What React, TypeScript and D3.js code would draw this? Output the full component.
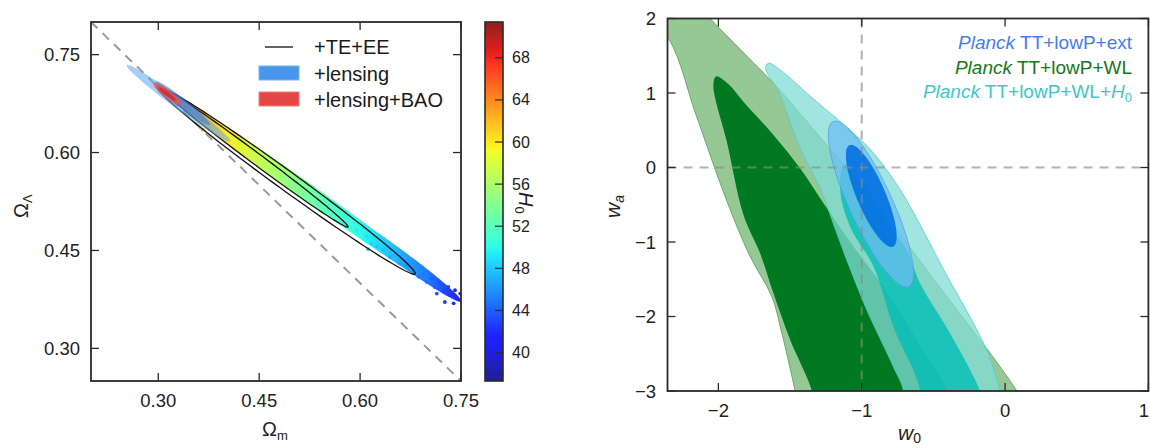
import React from "react";
import * as d3 from "d3";

const FONT = "'Liberation Sans', Arial, sans-serif";
const W = 1150;
const HT = 448;

// ---------------- Left panel data ----------------
const omDomain = [0.2, 0.75];
const olDomain = [0.25, 0.8];
const omTicks = [0.3, 0.45, 0.6, 0.75];
const olTicks = [0.3, 0.45, 0.6, 0.75];
const h0Domain = [37.3, 71.4];
const h0Ticks = [40, 44, 48, 52, 56, 60, 64, 68];
const flatOm = [0.2, 0.75]; // Omega_L = 1 - Omega_m

// H0 colouring of the sample band along Omega_m
const bandOm = [0.3, 0.35, 0.4, 0.45, 0.5, 0.55, 0.6, 0.65, 0.7, 0.75];
const bandH0 = [67, 63, 60, 57, 54.5, 52, 50, 47.5, 45, 41];
const bandShape = { a: [0.303, 0.7], b: [0.745, 0.376], r: 0.045 };
const tailShape = { a: [0.56, 0.515], b: [0.75, 0.372], r: 0.085 };

// scattered samples in the tail: [Omega_m, Omega_L, H0]
const tailSamples = [
  [0.585, 0.499, 50], [0.595, 0.481, 49.5], [0.605, 0.486, 49], [0.61, 0.471, 49],
  [0.617, 0.461, 48.5], [0.625, 0.456, 48], [0.634, 0.451, 47.5], [0.644, 0.44, 47],
  [0.654, 0.446, 47], [0.659, 0.43, 46.5], [0.669, 0.425, 46], [0.679, 0.42, 45.5],
  [0.687, 0.41, 45], [0.694, 0.415, 45], [0.699, 0.402, 44.5], [0.706, 0.407, 44],
  [0.711, 0.394, 44], [0.719, 0.4, 43.5], [0.724, 0.387, 43], [0.731, 0.394, 43],
  [0.734, 0.382, 42.5], [0.741, 0.389, 42], [0.744, 0.377, 42], [0.749, 0.384, 41.5],
  [0.726, 0.371, 42.5], [0.714, 0.384, 43.5], [0.739, 0.369, 42], [0.612, 0.452, 48.5],
  [0.366, 0.635, 63], [0.34, 0.677, 64],
];

// contours: tips of the major axis and minor/major ratio
const teeeOuter = { a: [0.298, 0.701], b: [0.682, 0.414], r: 0.06 };
const teeeInner = { a: [0.304, 0.699], b: [0.582, 0.486], r: 0.048 };
const lensOuter = { a: [0.253, 0.734], b: [0.407, 0.617], r: 0.085 };
const lensInner = { a: [0.296, 0.709], b: [0.377, 0.642], r: 0.12 };
const baoOuter = { a: [0.293, 0.706], b: [0.335, 0.673], r: 0.22 };
const baoInner = { a: [0.3, 0.7], b: [0.326, 0.68], r: 0.2 };

const leftLegend = ["+TE+EE", "+lensing", "+lensing+BAO"];

// ---------------- Right panel data ----------------
const w0Domain = [-2.355, 1];
const waDomain = [-3, 2];
const w0Ticks = [-2, -1, 0, 1];
const waTicks = [-3, -2, -1, 0, 1, 2];

const greenOuter = [
  [-2.65, 2.6], [-2.17, 2.25], [-2.057, 2.0], [-1.83, 1.55], [-1.604, 1.107],
  [-1.22, 0.25], [-0.918, -0.436], [-0.476, -1.554], [0.082, -3.0], [0.16, -3.3],
  [-1.43, -3.3], [-1.464, -3.0], [-1.557, -2.226], [-1.627, -1.734], [-1.778, -1.197],
  [-1.941, -0.45], [-2.155, 0.7], [-2.348, 1.734], [-2.65, 2.4],
];
const greenInner = [
  [-2.015, 1.225], [-1.93, 1.12], [-1.825, 0.883], [-1.616, 0.436], [-1.43, -0.011],
  [-1.243, -0.548], [-1.08, -1.0], [-0.85, -1.6], [-0.62, -2.3], [-0.405, -3.0],
  [-0.35, -3.3], [-1.33, -3.3], [-1.348, -3.0], [-1.499, -2.315], [-1.616, -1.689],
  [-1.709, -1.152], [-1.825, -0.638], [-1.941, 0.346], [-2.035, 1.1],
];
const cyanOuter = [
  [-1.65, 1.4], [-1.53, 1.25], [-1.356, 0.95], [-1.11, 0.55], [-0.916, 0.19],
  [-0.745, -0.26], [-0.623, -0.66], [-0.5, -1.11], [-0.378, -1.55], [-0.232, -2.05],
  [-0.109, -2.54], [-0.035, -3.0], [0.0, -3.3], [-0.73, -3.3], [-0.709, -3.0],
  [-0.779, -2.674], [-0.964, -1.913], [-1.104, -1.242], [-1.18, -0.85], [-1.29, -0.28],
  [-1.43, 0.258], [-1.581, 1.017], [-1.67, 1.33],
];
const cyanInner = [
  [-1.12, 0.05], [-0.95, -0.3], [-0.8, -0.8], [-0.686, -1.107], [-0.593, -1.554],
  [-0.384, -2.226], [-0.174, -3.0], [-0.13, -3.3], [-0.62, -3.3], [-0.593, -3.0],
  [-0.779, -2.137], [-0.918, -1.33], [-1.08, -0.8], [-1.15, -0.3],
];
const blueOuter = { a: [-1.2, 0.615], b: [-0.672, -1.6], r: 0.237 };
const blueInner = { a: [-1.085, 0.3], b: [-0.782, -1.063], r: 0.26 };

const rightLegend = [
  { rest: " TT+lowP+ext", color: "rgb(70,125,235)", h0: false },
  { rest: " TT+lowP+WL", color: "rgb(20,120,25)", h0: false },
  { rest: " TT+lowP+WL+", color: "rgb(60,200,200)", h0: true },
];

// ---------------- helpers ----------------
const jetR = d3.scaleLinear().domain([0, 0.35, 0.66, 0.89, 1]).range([0, 0, 1, 1, 0.5]).clamp(true);
const jetG = d3.scaleLinear().domain([0, 0.125, 0.375, 0.64, 0.91, 1]).range([0, 0, 1, 1, 0, 0]).clamp(true);
const jetB = d3.scaleLinear().domain([0, 0.11, 0.34, 0.65, 1]).range([0.5, 1, 1, 0, 0]).clamp(true);
function jet(t: number) {
  const w = 0.12;
  const f = (v: number) => Math.round((v * (1 - w) + w) * 255);
  return `rgb(${f(jetR(t))},${f(jetG(t))},${f(jetB(t))})`;
}
const h0Color = (h: number) => jet((h - h0Domain[0]) / (h0Domain[1] - h0Domain[0]));

function ellipsePath(xs: any, ys: any, e: any, n = 120) {
  const ax = xs(e.a[0]), ay = ys(e.a[1]), bx = xs(e.b[0]), by = ys(e.b[1]);
  const cx = (ax + bx) / 2, cy = (ay + by) / 2;
  const ux = (bx - ax) / 2, uy = (by - ay) / 2;
  const px = -uy * e.r, py = ux * e.r;
  const pts = d3.range(n).map((i) => {
    const t = (2 * Math.PI * i) / n;
    return [cx + ux * Math.cos(t) + px * Math.sin(t), cy + uy * Math.cos(t) + py * Math.sin(t)];
  });
  return "M" + pts.map((p) => p[0].toFixed(2) + "," + p[1].toFixed(2)).join("L") + "Z";
}

export default function App() {
  // left scales
  const LX0 = 91, LX1 = 461, LY0 = 22, LY1 = 381;
  const xL = d3.scaleLinear().domain(omDomain).range([LX0, LX1]);
  const yL = d3.scaleLinear().domain(olDomain).range([LY1, LY0]);
  // colorbar
  const CBX0 = 485, CBX1 = 503;
  const yC = d3.scaleLinear().domain(h0Domain).range([LY1, LY0]);
  // right scales
  const RX0 = 667.5, RX1 = 1148.4, RY0 = 18.5, RY1 = 391;
  const xR = d3.scaleLinear().domain(w0Domain).range([RX0, RX1]);
  const yR = d3.scaleLinear().domain(waDomain).range([RY1, RY0]);

  const polyR = d3
    .line<number[]>()
    .x((d) => xR(d[0]))
    .y((d) => yR(d[1]))
    .curve(d3.curveCatmullRomClosed.alpha(0.5));

  const tick = 8;
  const frameStroke = "#2a2a2a";
  const tickFont = 18.5;

  const cbStops = d3.range(0, 1.0001, 0.02);
  const fmtW = (v: number) => (v < 0 ? "\u2212" + Math.abs(v) : String(v));

  return (
    <svg
      width={W}
      height={HT}
      style={{ position: "absolute", left: 0, top: 0, display: "block", background: "#fff" }}
      fontFamily={FONT}
    >
      <defs>
        <clipPath id="clipL">
          <rect x={LX0} y={LY0} width={LX1 - LX0} height={LY1 - LY0} />
        </clipPath>
        <clipPath id="clipR">
          <rect x={RX0} y={RY0} width={RX1 - RX0} height={RY1 - RY0} />
        </clipPath>
        <linearGradient id="cbGrad" x1="0" y1="1" x2="0" y2="0">
          {cbStops.map((t, i) => (
            <stop key={i} offset={t} stopColor={jet(t)} />
          ))}
        </linearGradient>
        <linearGradient
          id="bandGrad"
          gradientUnits="userSpaceOnUse"
          x1={xL(bandOm[0])}
          y1={0}
          x2={xL(bandOm[bandOm.length - 1])}
          y2={0}
        >
          {bandOm.map((om, i) => (
            <stop
              key={i}
              offset={(om - bandOm[0]) / (bandOm[bandOm.length - 1] - bandOm[0])}
              stopColor={h0Color(bandH0[i])}
            />
          ))}
        </linearGradient>
      </defs>

      {/* ================= LEFT PANEL ================= */}
      <g clipPath="url(#clipL)">
        <line
          x1={xL(flatOm[0])}
          y1={yL(1 - flatOm[0])}
          x2={xL(flatOm[1])}
          y2={yL(1 - flatOm[1])}
          stroke="#9a9a9a"
          strokeWidth={2}
          strokeDasharray="9,7"
        />
        <path d={ellipsePath(xL, yL, bandShape)} fill="url(#bandGrad)" />
        <path d={ellipsePath(xL, yL, tailShape)} fill="url(#bandGrad)" />
        {tailSamples.map((s, i) => (
          <circle key={i} cx={xL(s[0])} cy={yL(s[1])} r={1.9} fill={h0Color(s[2])} />
        ))}
        <path d={ellipsePath(xL, yL, teeeOuter)} fill="none" stroke="#111" strokeWidth={1.3} />
        <path d={ellipsePath(xL, yL, teeeInner)} fill="none" stroke="#111" strokeWidth={1.3} />
        <path d={ellipsePath(xL, yL, lensOuter)} fill="rgb(95,165,240)" fillOpacity={0.55} />
        <path d={ellipsePath(xL, yL, lensInner)} fill="rgb(50,125,230)" fillOpacity={0.6} />
        <path d={ellipsePath(xL, yL, baoOuter)} fill="rgb(235,80,80)" fillOpacity={0.8} />
        <path d={ellipsePath(xL, yL, baoInner)} fill="rgb(205,45,50)" fillOpacity={0.85} />
      </g>

      {/* left legend */}
      <g fontSize={20} fill="#1a1a1a">
        <line x1={265} x2={293} y1={47} y2={47} stroke="#111" strokeWidth={1.3} />
        <rect x={259} y={66} width={40} height={14} fill="rgb(70,150,235)" stroke="rgb(120,180,245)" strokeWidth={1} />
        <rect x={259} y={92} width={40} height={14} fill="rgb(228,70,70)" stroke="rgb(240,130,130)" strokeWidth={1} />
        {leftLegend.map((t, i) => (
          <text key={t} x={314} y={54 + i * 26.5}>
            {t}
          </text>
        ))}
      </g>

      {/* left frame & ticks */}
      <rect x={LX0} y={LY0} width={LX1 - LX0} height={LY1 - LY0} fill="none" stroke={frameStroke} strokeWidth={1.8} />
      {omTicks.map((v) => (
        <g key={"xt" + v}>
          <line x1={xL(v)} x2={xL(v)} y1={LY1} y2={LY1 - tick} stroke={frameStroke} strokeWidth={1.3} />
          <line x1={xL(v)} x2={xL(v)} y1={LY0} y2={LY0 + tick} stroke={frameStroke} strokeWidth={1.3} />
          <text x={xL(v)} y={407} textAnchor="middle" fontSize={tickFont} fill="#222">
            {v.toFixed(2)}
          </text>
        </g>
      ))}
      {olTicks.map((v) => (
        <g key={"yt" + v}>
          <line x1={LX0} x2={LX0 + tick} y1={yL(v)} y2={yL(v)} stroke={frameStroke} strokeWidth={1.3} />
          <line x1={LX1} x2={LX1 - tick} y1={yL(v)} y2={yL(v)} stroke={frameStroke} strokeWidth={1.3} />
          <text x={80} y={yL(v) + 6.5} textAnchor="end" fontSize={tickFont} fill="#222">
            {v.toFixed(2)}
          </text>
        </g>
      ))}
      <text x={262} y={436} fontSize={20} fill="#222">
        Ω<tspan fontSize={13} dy={4}>m</tspan>
      </text>
      <text transform="translate(28,218) rotate(-90)" fontSize={20} fill="#222">
        Ω<tspan fontSize={13} dy={4}>Λ</tspan>
      </text>

      {/* colorbar */}
      <rect x={CBX0} y={LY0} width={CBX1 - CBX0} height={LY1 - LY0} fill="url(#cbGrad)" />
      <rect x={CBX0} y={LY0} width={CBX1 - CBX0} height={LY1 - LY0} fill="none" stroke={frameStroke} strokeWidth={1.6} />
      {h0Ticks.map((v) => (
        <g key={"cb" + v}>
          <line x1={CBX1} x2={CBX1 - 8} y1={yC(v)} y2={yC(v)} stroke={frameStroke} strokeWidth={1.2} />
          <text x={512} y={yC(v) + 5.5} fontSize={16} fill="#222">
            {v}
          </text>
        </g>
      ))}
      <text transform="translate(519,192) rotate(90)" fontSize={20} fill="#222">
        <tspan fontStyle="italic">H</tspan>
        <tspan fontSize={13} dy={4}>0</tspan>
      </text>

      {/* ================= RIGHT PANEL ================= */}
      <g clipPath="url(#clipR)">
        <path d={polyR(greenOuter) || ""} fill="rgb(150,200,150)" stroke="rgb(95,165,95)" strokeWidth={0.9} />
        <path d={polyR(greenInner) || ""} fill="rgb(0,122,34)" />
        <path d={polyR(cyanOuter) || ""} fill="rgb(130,220,215)" fillOpacity={0.75} stroke="rgb(80,205,205)" strokeWidth={0.8} />
        <path d={polyR(cyanInner) || ""} fill="rgb(0,190,180)" fillOpacity={0.8} />
        <path d={ellipsePath(xR, yR, blueOuter)} fill="rgb(110,190,240)" fillOpacity={0.75} stroke="rgb(80,160,235)" strokeWidth={0.8} />
        <path d={ellipsePath(xR, yR, blueInner)} fill="rgb(0,110,225)" fillOpacity={0.88} />
        <line x1={xR(-1)} x2={xR(-1)} y1={RY0} y2={RY1} stroke="#8a8a8a" strokeOpacity={0.65} strokeWidth={2} strokeDasharray="9,7" />
        <line x1={RX0} x2={RX1} y1={yR(0)} y2={yR(0)} stroke="#8a8a8a" strokeOpacity={0.65} strokeWidth={2} strokeDasharray="9,7" />
      </g>

      {/* right legend */}
      <g fontSize={19} textAnchor="end">
        {rightLegend.map((d, i) => (
          <text key={i} x={1132} y={49 + i * 24.5} fill={d.color}>
            <tspan fontStyle="italic">Planck</tspan>
            <tspan>{d.rest}</tspan>
            {d.h0 ? <tspan fontStyle="italic">H</tspan> : null}
            {d.h0 ? (
              <tspan fontSize={13} dy={4}>
                0
              </tspan>
            ) : null}
          </text>
        ))}
      </g>

      {/* right frame & ticks */}
      <rect x={RX0} y={RY0} width={RX1 - RX0} height={RY1 - RY0} fill="none" stroke={frameStroke} strokeWidth={1.8} />
      {w0Ticks.map((v) => (
        <g key={"rx" + v}>
          <line x1={xR(v)} x2={xR(v)} y1={RY1} y2={RY1 - tick} stroke={frameStroke} strokeWidth={1.3} />
          <line x1={xR(v)} x2={xR(v)} y1={RY0} y2={RY0 + tick} stroke={frameStroke} strokeWidth={1.3} />
          <text
            x={xR(v) + 6 > W ? W - 1 : xR(v)}
            y={417}
            textAnchor={xR(v) + 6 > W ? "end" : "middle"}
            fontSize={tickFont}
            fill="#222"
          >
            {fmtW(v)}
          </text>
        </g>
      ))}
      {waTicks.map((v) => (
        <g key={"ry" + v}>
          <line x1={RX0} x2={RX0 + tick} y1={yR(v)} y2={yR(v)} stroke={frameStroke} strokeWidth={1.3} />
          <line x1={RX1} x2={RX1 - tick} y1={yR(v)} y2={yR(v)} stroke={frameStroke} strokeWidth={1.3} />
          <text x={656} y={yR(v) + 6.5} textAnchor="end" fontSize={tickFont} fill="#222">
            {fmtW(v)}
          </text>
        </g>
      ))}
      <text x={898} y={440} fontSize={21} fill="#222">
        <tspan fontStyle="italic">w</tspan>
        <tspan fontSize={14} dy={3}>0</tspan>
      </text>
      <text transform="translate(620,218) rotate(-90)" fontSize={21} fill="#222">
        <tspan fontStyle="italic">w</tspan>
        <tspan fontSize={14} fontStyle="italic" dy={4}>a</tspan>
      </text>
    </svg>
  );
}
